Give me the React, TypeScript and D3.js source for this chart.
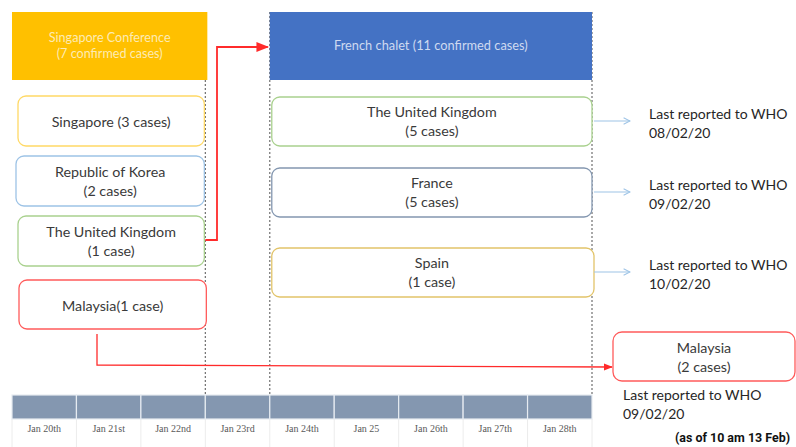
import React from "react";
import * as d3 from "d3";

const dates = ["Jan 20th", "Jan 21st", "Jan 22nd", "Jan 23rd", "Jan 24th", "Jan 25", "Jan 26th", "Jan 27th", "Jan 28th"];

const clusterNames = ["Singapore Conference", "French chalet"];
const clusterCases = [7, 11];
const clusterStart = ["Jan 20th", "Jan 24th"];
const clusterEnd = ["Jan 22nd", "Jan 28th"];

const leftLines1 = ["Singapore (3 cases)", "Republic of Korea", "The United Kingdom", "Malaysia(1 case)"];
const leftLines2 = ["", "(2 cases)", "(1 case)", ""];
const leftColors = ["#ffd966", "#9dc3e6", "#a9d18e", "#ff5b5b"];

const rightLines1 = ["The United Kingdom", "France", "Spain"];
const rightLines2 = ["(5 cases)", "(5 cases)", "(1 case)"];
const rightColors = ["#a9d18e", "#8497b0", "#e2c46a"];
const reportedDates = ["08/02/20", "09/02/20", "10/02/20"];

const malaysiaLines = ["Malaysia", "(2 cases)"];
const malaysiaReported = "09/02/20";
const asOf = "(as of 10 am 13 Feb)";

const W = 796;
const H = 447;
const FONT = "Lato, 'Open Sans', sans-serif";
const TXT = "#3a3a3a";
const FS = 14.3;

export default function App() {
  const x = d3.scaleBand<string>().domain(dates).range([12, 592]).paddingInner(0);
  const bw = x.bandwidth();
  const xs = (d: string) => x(d) as number;
  const xe = (d: string) => (x(d) as number) + bw;

  const leftY = [96, 156, 216, 280];
  const rightY = [97, 168, 248];
  const boxH = 50;

  const leftX0 = xs(dates[0]) + 6;
  const leftX1 = xe(dates[2]) - 1;
  const rightX0 = xs(dates[4]) + 2;
  const rightX1 = xe(dates[8]);

  const dashX = [xs("Jan 23rd"), xs("Jan 24th"), xe("Jan 28th")];

  const mX0 = 613, mY0 = 332, mX1 = 795;
  const malBoxCx = 97;
  const ukY = leftY[2] + 24;

  return (
    <svg width={W} height={H} style={{ position: "absolute", left: 0, top: 0, background: "#fff" }} fontFamily={FONT}>
      <defs>
        <marker id="redHead" viewBox="0 0 10 10" refX="9" refY="5" markerWidth="7" markerHeight="7" orient="auto">
          <path d="M0,1 L10,5 L0,9 Z" fill="#ff2b2b" />
        </marker>
        <marker id="blueHead" viewBox="0 0 10 10" refX="9" refY="5" markerWidth="8" markerHeight="8" orient="auto" markerUnits="userSpaceOnUse">
          <path d="M1,1 L9,5 L1,9" fill="none" stroke="#9dc3e6" strokeWidth="1.3" />
        </marker>
      </defs>

      {/* faint table lines below timeline */}
      {dates.map((d) => (
        <line key={"g" + d} x1={xs(d)} x2={xs(d)} y1={419} y2={447} stroke="#ececec" strokeWidth={1} />
      ))}
      <line x1={rightX1} x2={rightX1} y1={419} y2={447} stroke="#ececec" />

      {/* dashed vertical guides */}
      {dashX.map((dx, i) => (
        <line key={"dash" + i} x1={dx} x2={dx} y1={12} y2={395} stroke="#6f6f6f" strokeWidth={1.2} strokeDasharray="2,2" />
      ))}

      {/* cluster headers */}
      {clusterNames.map((n, i) => {
        const x0 = xs(clusterStart[i]);
        const x1 = i === 0 ? xe(clusterEnd[i]) + 2 : xe(clusterEnd[i]);
        const cx = (x0 + x1) / 2;
        return (
          <g key={n}>
            <rect x={x0} y={12} width={x1 - x0} height={68} fill={i === 0 ? "#ffc000" : "#4472c4"} />
            {i === 0 ? (
              <text x={cx} textAnchor="middle" fontSize={12.6} fill="#fdebb4">
                <tspan x={cx} y={42}>{n}</tspan>
                <tspan x={cx} y={58}>({clusterCases[i]} confirmed cases)</tspan>
              </text>
            ) : (
              <text x={cx} y={50} textAnchor="middle" fontSize={12.8} fill="#cfdaf0">
                {n} ({clusterCases[i]} confirmed cases)
              </text>
            )}
          </g>
        );
      })}

      {/* left boxes */}
      {leftLines1.map((l, i) => {
        const x0 = leftX0 + (i === 1 ? -2 : i === 3 ? 1 : 0);
        const x1 = leftX1 + (i === 3 ? 2 : 0);
        const cx = (x0 + x1) / 2;
        const y0 = leftY[i];
        return (
          <g key={"l" + i}>
            <rect x={x0} y={y0} width={x1 - x0} height={boxH - (i === 3 ? 1 : 0)} rx={8} fill="#fff" stroke={leftColors[i]} strokeWidth={1.3} />
            {leftLines2[i] ? (
              <text textAnchor="middle" fontSize={FS} fill={TXT}>
                <tspan x={cx} y={y0 + 21}>{l}</tspan>
                <tspan x={cx} y={y0 + 40}>{leftLines2[i]}</tspan>
              </text>
            ) : (
              <text x={cx} y={y0 + 31} textAnchor="middle" fontSize={FS} fill={TXT}>{l}</text>
            )}
          </g>
        );
      })}

      {/* right boxes */}
      {rightLines1.map((l, i) => {
        const cx = (rightX0 + rightX1) / 2;
        const y0 = rightY[i];
        const ay = y0 + 24;
        return (
          <g key={"r" + i}>
            <rect x={rightX0} y={y0} width={rightX1 - rightX0 + (i === 2 ? 2 : 0)} height={boxH - 1} rx={8} fill="#fff" stroke={rightColors[i]} strokeWidth={1.3} />
            <text textAnchor="middle" fontSize={FS} fill={TXT}>
              <tspan x={cx} y={y0 + 20}>{l}</tspan>
              <tspan x={cx} y={y0 + 39}>{rightLines2[i]}</tspan>
            </text>
            <line x1={rightX1 + 2} x2={630} y1={ay} y2={ay} stroke="#9dc3e6" strokeWidth={1.2} markerEnd="url(#blueHead)" />
            <text fontSize={14} fill="#262626">
              <tspan x={649} y={ay - 2}>Last reported to WHO</tspan>
              <tspan x={649} y={ay + 17}>{reportedDates[i]}</tspan>
            </text>
          </g>
        );
      })}

      {/* red arrow UK -> French chalet */}
      <path d={`M${leftX1 + 1},${ukY} H217 V47 H${rightX0 - 4}`} fill="none" stroke="#ff2b2b" strokeWidth={1.8} markerEnd="url(#redHead)" />

      {/* red arrow Malaysia -> Malaysia */}
      <path d={`M${malBoxCx},334 V365 L${mX0 - 1},367`} fill="none" stroke="#ff2b2b" strokeWidth={1.3} markerEnd="url(#redHead)" />

      {/* Malaysia (2 cases) box */}
      <rect x={mX0} y={mY0} width={mX1 - mX0} height={49} rx={9} fill="#fff" stroke="#ff5b5b" strokeWidth={1.3} />
      <text textAnchor="middle" fontSize={FS} fill={TXT}>
        <tspan x={(mX0 + mX1) / 2} y={mY0 + 21}>{malaysiaLines[0]}</tspan>
        <tspan x={(mX0 + mX1) / 2} y={mY0 + 40}>{malaysiaLines[1]}</tspan>
      </text>
      <text fontSize={14} fill="#262626">
        <tspan x={623} y={400}>Last reported to WHO</tspan>
        <tspan x={623} y={419}>{malaysiaReported}</tspan>
      </text>
      <text x={790} y={442} textAnchor="end" fontSize={12.5} fontWeight="bold" fill="#111" fontFamily="'Liberation Sans Narrow', 'Roboto', sans-serif" textLength={115} lengthAdjust="spacingAndGlyphs">
        {asOf}
      </text>

      {/* timeline */}
      {dates.map((d) => (
        <g key={d}>
          <rect x={xs(d)} y={395} width={bw} height={24} fill="#8497b0" stroke="#e6ebf1" strokeWidth={1.2} />
          <text x={xs(d) + bw / 2} y={432} textAnchor="middle" fontSize={10} fill="#595959" fontFamily="'Liberation Serif', 'DejaVu Serif', serif">
            {d}
          </text>
        </g>
      ))}
    </svg>
  );
}
